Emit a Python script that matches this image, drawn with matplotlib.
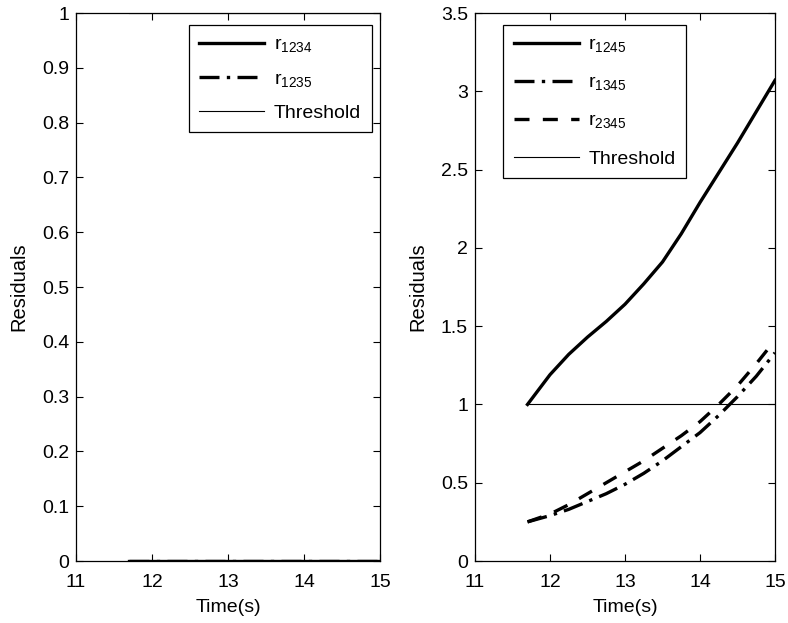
import numpy as np
import matplotlib.pyplot as plt

plt.rcParams['font.family'] = ['Liberation Sans', 'DejaVu Sans']
plt.rcParams['mathtext.fontset'] = 'custom'
plt.rcParams['mathtext.rm'] = 'Liberation Sans'
plt.rcParams['mathtext.it'] = 'Liberation Sans'

# data
t = [11.7, 12.0, 12.25, 12.5, 12.75, 13.0, 13.25, 13.5, 13.75, 14.0, 14.25, 14.5, 14.75, 15.0]
r1234 = [0.0] * len(t)
r1235 = [0.0] * len(t)
r1245 = [1.0, 1.19, 1.32, 1.43, 1.53, 1.64, 1.77, 1.91, 2.09, 2.29, 2.48, 2.67, 2.87, 3.07]
r1345 = [0.25, 0.29, 0.33, 0.38, 0.43, 0.49, 0.56, 0.64, 0.73, 0.82, 0.93, 1.05, 1.18, 1.33]
r2345 = [0.25, 0.30, 0.36, 0.43, 0.50, 0.57, 0.64, 0.72, 0.80, 0.89, 1.00, 1.12, 1.26, 1.41]
threshold = 1.0

left_yticks = [0, 0.1, 0.2, 0.3, 0.4, 0.5, 0.6, 0.7, 0.8, 0.9, 1]
left_ylabels = ['0', '0.1', '0.2', '0.3', '0.4', '0.5', '0.6', '0.7', '0.8', '0.9', '1']
right_yticks = [0, 0.5, 1, 1.5, 2, 2.5, 3, 3.5]
right_ylabels = ['0', '0.5', '1', '1.5', '2', '2.5', '3', '3.5']
xticks = [11, 12, 13, 14, 15]

dashdot = (0, (6, 2.2, 1, 2.2))
dashed = (0, (4.5, 4))

fig = plt.figure(figsize=(7.88, 6.23), dpi=100)
ax1 = fig.add_axes([0.0964, 0.0995, 0.3858, 0.8796])
ax2 = fig.add_axes([0.6028, 0.0995, 0.3807, 0.8796])

ax1.plot(t, r1234, color='black', lw=2.4, label=r'$\mathregular{r_{1234}}$')
ax1.plot(t, r1235, color='black', lw=2.4, ls=dashdot, label=r'$\mathregular{r_{1235}}$')
ax1.plot([t[0], t[-1]], [threshold, threshold], color='black', lw=0.8, label='Threshold')
ax1.set_ylim(0, 1)
ax1.set_yticks(left_yticks)
ax1.set_yticklabels(left_ylabels)

ax2.plot(t, r1245, color='black', lw=2.4, label=r'$\mathregular{r_{1245}}$')
ax2.plot(t, r1345, color='black', lw=2.4, ls=dashdot, label=r'$\mathregular{r_{1345}}$')
ax2.plot(t, r2345, color='black', lw=2.4, ls=dashed, label=r'$\mathregular{r_{2345}}$')
ax2.plot([t[0], t[-1]], [threshold, threshold], color='black', lw=0.8, label='Threshold')
ax2.set_ylim(0, 3.5)
ax2.set_yticks(right_yticks)
ax2.set_yticklabels(right_ylabels)

for ax in (ax1, ax2):
    ax.set_xlim(11, 15)
    ax.set_xticks(xticks)
    ax.set_xlabel('Time(s)', fontsize=14, labelpad=6)
    ax.set_ylabel('Residuals', fontsize=14.5, labelpad=10)
    ax.tick_params(direction='in', top=True, right=True, labelsize=14, length=5, width=0.8)
    ax.tick_params(axis='x', pad=9)
    ax.tick_params(axis='y', pad=5)
    for s in ax.spines.values():
        s.set_linewidth(0.9)

leg_kw = dict(fontsize=14, handlelength=3.35, fancybox=False, edgecolor='black',
              framealpha=1, borderaxespad=0, handletextpad=0.5, borderpad=0.55)
leg1 = ax1.legend(loc='upper right', bbox_to_anchor=(0.974, 0.978), labelspacing=0.8, **leg_kw)
leg2 = ax2.legend(loc='upper left', bbox_to_anchor=(0.093, 0.978), labelspacing=1.0, **leg_kw)
for leg in (leg1, leg2):
    leg.get_frame().set_linewidth(0.9)

plt.savefig('out.png')
